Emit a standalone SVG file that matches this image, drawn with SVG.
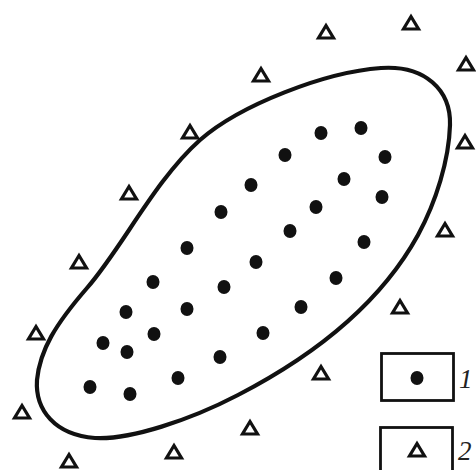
<svg xmlns="http://www.w3.org/2000/svg" xmlns:xlink="http://www.w3.org/1999/xlink" width="476" height="470" viewBox="0 0 476 470">
<style>
.dot{fill:#111}
.tri{fill:none;stroke:#111;stroke-width:3.2;stroke-linejoin:miter}
.bound{fill:none;stroke:#111;stroke-width:4.2}
.box{fill:none;stroke:#111;stroke-width:2.8}
.lbl{font-family:"Liberation Serif","Times New Roman",serif;font-style:italic;font-size:27px;fill:#222}
</style>
<defs>
<path id="t" class="tri" d="M0,-6.5 L7.5,6 L-7.5,6 Z"/>
<ellipse id="d" class="dot" rx="6.5" ry="7"/>
</defs>
<rect width="476" height="470" fill="#fff"/>
<g id="boundary">
<path class="bound" d="M381,68 C425,65 451,90 450,125 C449,160 436,202 418,235 C385,295 325,350 238,395 C190,420 130,440 95,438 C55,435 35,410 37,380 C40,350 55,325 87,288 C122,248 155,180 200,140 C240,105 325,72 381,68 Z"/>
</g>
<g id="dots">
<use href="#d" x="321" y="133"/><use href="#d" x="361" y="128"/>
<use href="#d" x="285" y="155"/><use href="#d" x="385" y="157"/>
<use href="#d" x="251" y="185"/><use href="#d" x="344" y="179"/>
<use href="#d" x="382" y="197"/><use href="#d" x="221" y="212"/>
<use href="#d" x="316" y="207"/><use href="#d" x="187" y="248"/>
<use href="#d" x="290" y="231"/><use href="#d" x="364" y="242"/>
<use href="#d" x="153" y="282"/><use href="#d" x="256" y="262"/>
<use href="#d" x="336" y="278"/><use href="#d" x="224" y="287"/>
<use href="#d" x="126" y="312"/><use href="#d" x="187" y="309"/>
<use href="#d" x="301" y="307"/><use href="#d" x="154" y="334"/>
<use href="#d" x="263" y="333"/><use href="#d" x="103" y="343"/>
<use href="#d" x="127" y="352"/><use href="#d" x="220" y="357"/>
<use href="#d" x="178" y="378"/><use href="#d" x="90" y="387"/>
<use href="#d" x="130" y="394"/>
</g>
<g id="triangles">
<use href="#t" x="326" y="32"/><use href="#t" x="411" y="23"/>
<use href="#t" x="466" y="64"/><use href="#t" x="261" y="75"/>
<use href="#t" x="190" y="132"/><use href="#t" x="465" y="142"/>
<use href="#t" x="129" y="193"/><use href="#t" x="445" y="230"/>
<use href="#t" x="79" y="262"/><use href="#t" x="400" y="307"/>
<use href="#t" x="36" y="333"/><use href="#t" x="321" y="373"/>
<use href="#t" x="22" y="412"/><use href="#t" x="250" y="428"/>
<use href="#t" x="174" y="452"/><use href="#t" x="69" y="461"/>
</g>
<g id="legend1">
<rect class="box" x="381.5" y="353.5" width="72" height="47"/>
<use href="#d" x="417" y="378"/>
<text class="lbl" x="459" y="388">1</text>
</g>
<g id="legend2">
<rect class="box" x="380.5" y="427.5" width="72" height="50"/>
<use href="#t" x="417" y="450"/>
<text class="lbl" x="458" y="460">2</text>
</g>
</svg>
